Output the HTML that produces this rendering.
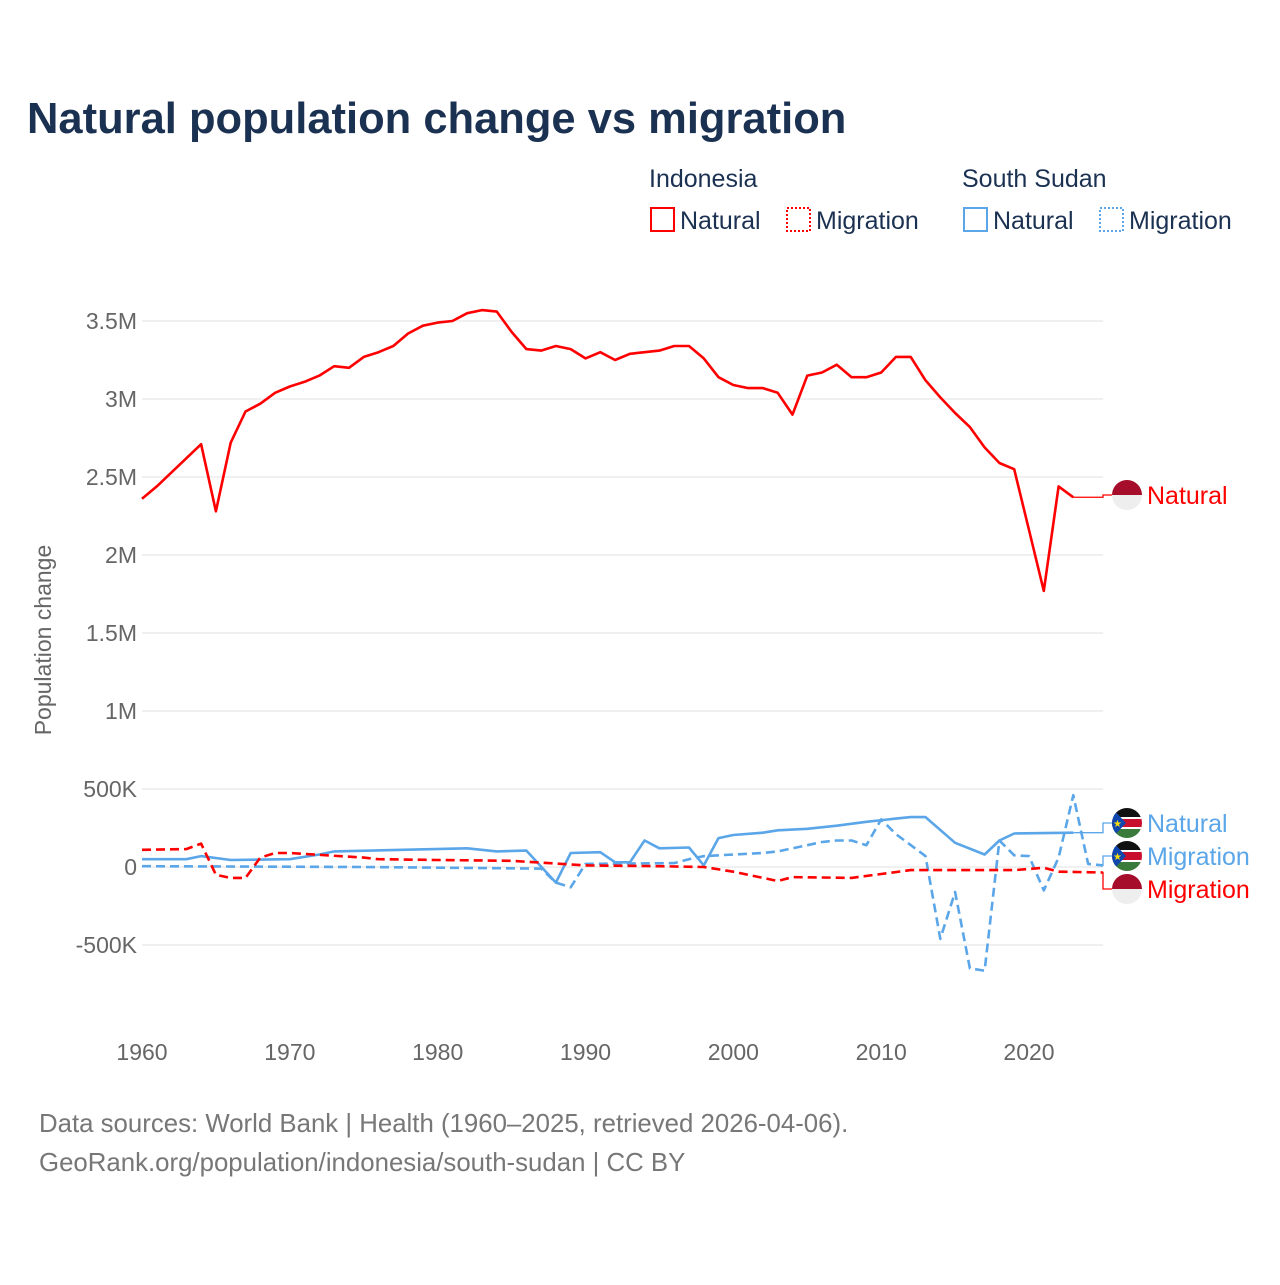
<!DOCTYPE html>
<html><head><meta charset="utf-8">
<style>
body{margin:0;background:#fff;font-family:"Liberation Sans",sans-serif;}
svg text{font-family:"Liberation Sans",sans-serif;}
</style></head>
<body>
<svg id="chart" width="1280" height="1280" viewBox="0 0 1280 1280">
<defs>
<clipPath id="c1"><circle cx="1127" cy="823" r="15"/></clipPath>
<clipPath id="c2"><circle cx="1127" cy="856" r="15"/></clipPath>
</defs>
<text x="27" y="133" font-size="43.5" font-weight="bold" fill="#1b3152">Natural population change vs migration</text>
<g font-size="25" fill="#1b3152">
<text x="649" y="187">Indonesia</text>
<text x="962" y="187">South Sudan</text>
<g><rect x="651" y="208" width="23" height="23" fill="none" stroke="#f00" stroke-width="2"/><text x="680" y="229">Natural</text></g>
<g><rect x="787" y="208" width="23" height="23" fill="none" stroke="#f00" stroke-width="2" stroke-dasharray="2,2"/><text x="816" y="229">Migration</text></g>
<g><rect x="964" y="208" width="23" height="23" fill="none" stroke="#5aa6e8" stroke-width="2"/><text x="993" y="229">Natural</text></g>
<g><rect x="1100" y="208" width="23" height="23" fill="none" stroke="#5aa6e8" stroke-width="2" stroke-dasharray="2,2"/><text x="1129" y="229">Migration</text></g>
</g>
<text transform="translate(51,640) rotate(-90)" text-anchor="middle" font-size="23" fill="#666">Population change</text>
<g id="grid"></g><g id="yt"></g><g id="xt"></g><g id="series"></g><g id="labels"></g>
<text x="39" y="1132" font-size="25.8" fill="#777">Data sources: World Bank | Health (1960–2025, retrieved 2026-04-06).</text>
<text x="39" y="1171" font-size="25.8" fill="#777">GeoRank.org/population/indonesia/south-sudan | CC BY</text>
</svg>
<script>
const yTicks=[-500000,0,500000,1000000,1500000,2000000,2500000,3000000,3500000];
const yTickLabels=["-500K","0","500K","1M","1.5M","2M","2.5M","3M","3.5M"];
const xTicks=[1960,1970,1980,1990,2000,2010,2020];
const idnNaturalYears=[];for(let y=1960;y<=2023;y++)idnNaturalYears.push(y);
const idnNatural=[2.36,2.44,2.53,2.62,2.71,2.28,2.72,2.92,2.97,3.04,3.08,3.11,3.15,3.21,3.20,3.27,3.30,3.34,3.42,3.47,3.49,3.50,3.55,3.57,3.56,3.43,3.32,3.31,3.34,3.32,3.26,3.30,3.25,3.29,3.30,3.31,3.34,3.34,3.26,3.14,3.09,3.07,3.07,3.04,2.90,3.15,3.17,3.22,3.14,3.14,3.17,3.27,3.27,3.12,3.01,2.91,2.82,2.69,2.59,2.55,2.16,1.77,2.44,2.37].map(v=>v*1e6);
const idnMigYears=[1960,1963,1964,1965,1966,1967,1968,1969,1970,1975,1976,1980,1985,1990,1995,1998,2000,2003,2004,2008,2010,2012,2015,2019,2021,2022,2025];
const idnMig=[110,115,150,-50,-70,-70,60,90,90,60,50,45,40,10,5,0,-30,-90,-65,-70,-45,-20,-20,-20,-5,-30,-35].map(v=>v*1e3);
const ssdNatYears=[1960,1963,1964,1966,1970,1972,1973,1982,1984,1986,1988,1989,1991,1992,1993,1994,1995,1997,1998,1999,2000,2002,2003,2005,2007,2009,2011,2012,2013,2015,2017,2018,2019,2023];
const ssdNat=[50,50,70,45,50,80,100,120,100,105,-100,90,95,30,30,170,120,125,10,185,205,220,235,245,265,290,310,320,320,155,80,170,215,220].map(v=>v*1e3);
const ssdMigYears=[1960,1975,1987,1988,1989,1990,1996,1997,1998,2000,2002,2003,2005,2006,2007,2008,2009,2010,2011,2013,2014,2015,2016,2017,2018,2019,2020,2021,2022,2023,2024,2025];
const ssdMig=[5,0,-10,-100,-130,20,25,50,70,80,90,100,140,160,170,170,140,305,210,70,-460,-160,-650,-665,170,75,70,-150,60,460,20,10].map(v=>v*1e3);

const X=y=>142+(y-1960)*(887/60);
const Y=v=>867-v*156/1e6;
const NS="http://www.w3.org/2000/svg";
function mk(t,a,p){const e=document.createElementNS(NS,t);for(const k in a)e.setAttribute(k,a[k]);p.appendChild(e);return e;}
const grid=document.getElementById('grid'),yt=document.getElementById('yt'),xt=document.getElementById('xt');
yTicks.forEach((v,i)=>{
 const l=mk('line',{x1:142,x2:1103,y1:Y(v),y2:Y(v),stroke:'#e6e6e6','stroke-width':1.2},grid);
 
 
 const t=mk('text',{x:137,y:Y(v)+8,'text-anchor':'end','font-size':23,fill:'#666'},yt);t.textContent=yTickLabels[i];
 
 
});
xTicks.forEach(y=>{
 const t=mk('text',{x:X(y),y:1060,'text-anchor':'middle','font-size':23,fill:'#666'},xt);t.textContent=y;
 
 
});
const S=document.getElementById('series');
function line(xs,vs,col,dash,name){
 const d=xs.map((x,i)=>(i?'L':'M')+X(x).toFixed(1)+','+Y(vs[i]).toFixed(1)).join('');
 const p=mk('path',{d:d,fill:'none',stroke:col,'stroke-width':2.6,'stroke-dasharray':dash||'none','stroke-linejoin':'round'},S);
 
 
}
line(ssdMigYears,ssdMig,'#5aa6e8','9,5','line-south-sudan-migration');
line(ssdNatYears,ssdNat,'#5aa6e8',null,'line-south-sudan-natural');
line(idnMigYears,idnMig,'#f00','9,5','line-indonesia-migration');
line(idnNaturalYears,idnNatural,'#f00',null,'line-indonesia-natural');
const L=document.getElementById('labels');
function lab(lastX,lastV,ly,col,text,flag,name,clip){
 const xe=X(lastX);
 mk('path',{d:`M${xe},${Y(lastV)}L1103,${Y(lastV)}L1103,${ly}L1112,${ly}`,fill:'none',stroke:col,'stroke-width':1.3},L);
 if(flag==='id'){
  mk('path',{d:`M1112,${ly}a15,15 0 0 1 30,0z`,fill:'#a50d2a'},L);
  mk('path',{d:`M1112,${ly}a15,15 0 0 0 30,0z`,fill:'#eee'},L);
 }else{
  const g=mk('g',{'clip-path':`url(#${clip})`},L);
  mk('rect',{x:1112,y:ly-15,width:30,height:10,fill:'#111'},g);
  mk('rect',{x:1112,y:ly-5,width:30,height:10,fill:'#c8102e'},g);
  mk('rect',{x:1112,y:ly+5,width:30,height:10,fill:'#3a7a3a'},g);
  mk('rect',{x:1112,y:ly-6,width:30,height:2,fill:'#fff'},g);
  mk('rect',{x:1112,y:ly+4,width:30,height:2,fill:'#fff'},g);
  mk('path',{d:`M1112,${ly-15}L1126,${ly}L1112,${ly+15}z`,fill:'#0f47af'},g);
  mk('text',{x:1113,y:ly+4,'font-size':10,fill:'#fcdd09'},g).textContent='★';
 }
 const t=mk('text',{x:1147,y:ly+9,'font-size':25,fill:col},L);t.textContent=text;
 
 
}
lab(2023,idnNatural[idnNatural.length-1],495,'#f00','Natural','id','label-indonesia-natural');
lab(2023,ssdNat[ssdNat.length-1],823,'#5aa6e8','Natural','ss','label-south-sudan-natural','c1');
lab(2025,ssdMig[ssdMig.length-1],856,'#5aa6e8','Migration','ss','label-south-sudan-migration','c2');
lab(2025,idnMig[idnMig.length-1],889,'#f00','Migration','id','label-indonesia-migration');
</script>
</body></html>
